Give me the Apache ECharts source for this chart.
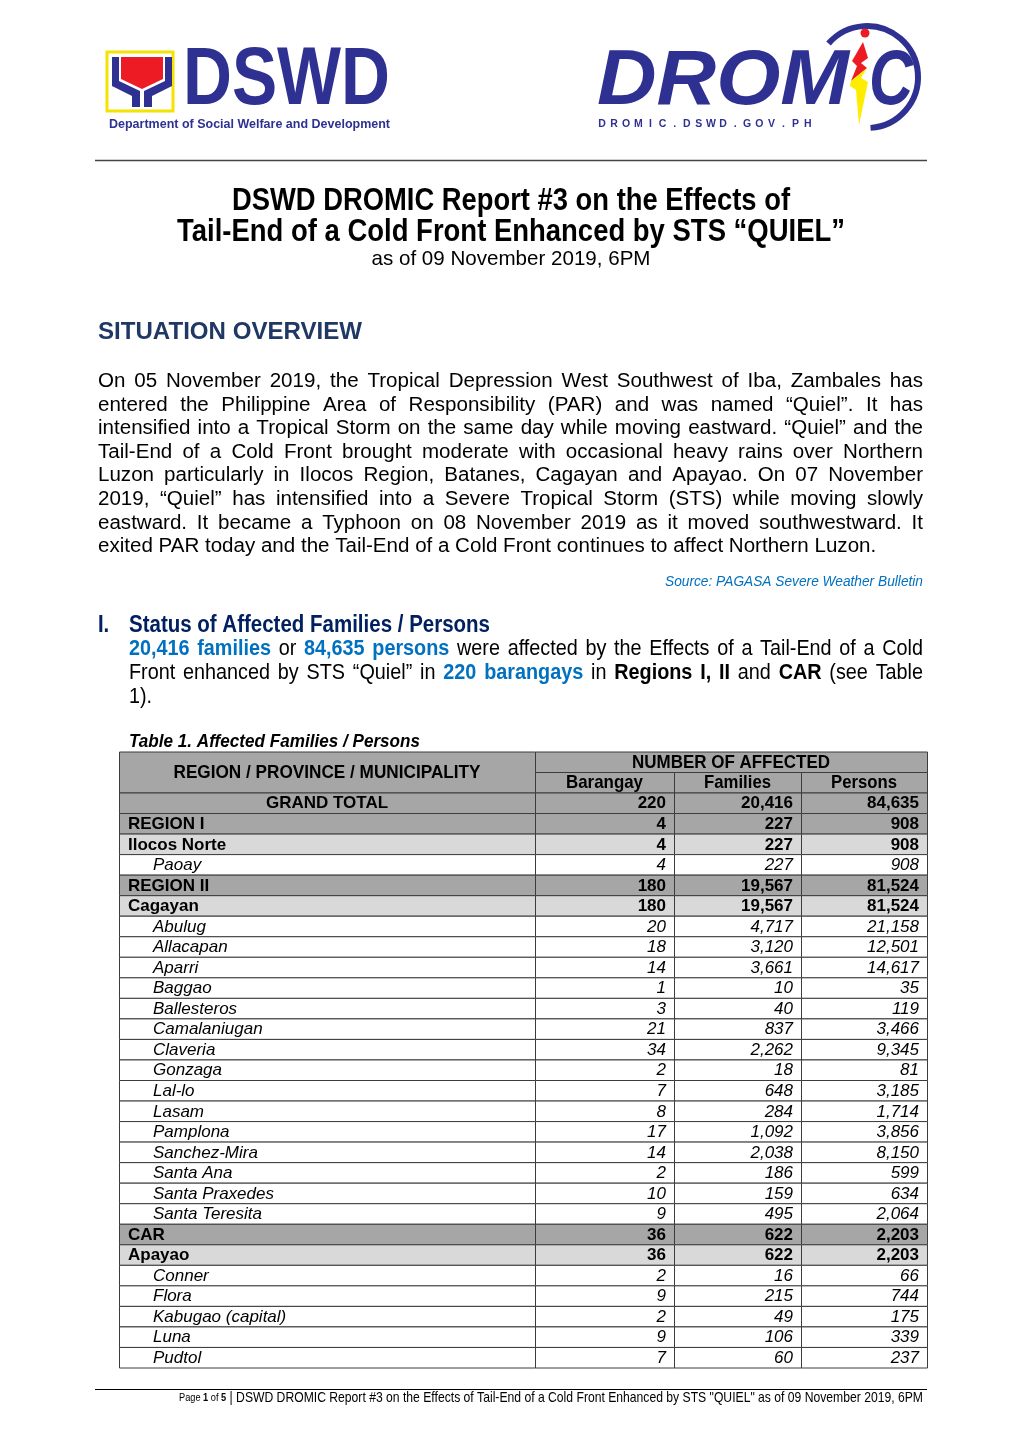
<!DOCTYPE html>
<html><head><meta charset="utf-8">
<script src="https://cdn.jsdelivr.net/npm/echarts@6/dist/echarts.min.js"></script>
<style>html,body{margin:0;padding:0;background:#fff}#c{width:1020px;height:1442px}</style>
</head><body><div id="c"></div>
<script>
// ---------------- DATA ----------------
const rowNames = ['GRAND TOTAL','REGION I','Ilocos Norte','Paoay','REGION II','Cagayan','Abulug','Allacapan','Aparri','Baggao','Ballesteros','Camalaniugan','Claveria','Gonzaga','Lal-lo','Lasam','Pamplona','Sanchez-Mira','Santa Ana','Santa Praxedes','Santa Teresita','CAR','Apayao','Conner','Flora','Kabugao (capital)','Luna','Pudtol'];
const rowLevels = [0,1,2,3,1,2,3,3,3,3,3,3,3,3,3,3,3,3,3,3,3,1,2,3,3,3,3,3];
const barangays = [220,4,4,4,180,180,20,18,14,1,3,21,34,2,7,8,17,14,2,10,9,36,36,2,9,2,9,7];
const families = [20416,227,227,227,19567,19567,4717,3120,3661,10,40,837,2262,18,648,284,1092,2038,186,159,495,622,622,16,215,49,106,60];
const persons = [84635,908,908,908,81524,81524,21158,12501,14617,35,119,3466,9345,81,3185,1714,3856,8150,599,634,2064,2203,2203,66,744,175,339,237];
const headerMain = 'REGION / PROVINCE / MUNICIPALITY';
const headerGroup = 'NUMBER OF AFFECTED';
const headerCols = ['Barangay','Families','Persons'];
const titleLines = ['DSWD DROMIC Report #3 on the Effects of','Tail-End of a Cold Front Enhanced by STS \u201cQUIEL\u201d'];
const subtitle = 'as of 09 November 2019, 6PM';
const overviewLines = [
 'On 05 November 2019, the Tropical Depression West Southwest of Iba, Zambales has',
 'entered the Philippine Area of Responsibility (PAR) and was named \u201cQuiel\u201d. It has',
 'intensified into a Tropical Storm on the same day while moving eastward. \u201cQuiel\u201d and the',
 'Tail-End of a Cold Front brought moderate with occasional heavy rains over Northern',
 'Luzon particularly in Ilocos Region, Batanes, Cagayan and Apayao. On 07 November',
 '2019, \u201cQuiel\u201d has intensified into a Severe Tropical Storm (STS) while moving slowly',
 'eastward. It became a Typhoon on 08 November 2019 as it moved southwestward. It',
 'exited PAR today and the Tail-End of a Cold Front continues to affect Northern Luzon.'
];

// ---------------- HELPERS ----------------
const FAM = '"Liberation Sans", Arial, sans-serif';
const NARROW = 0.82;
const BLUE = '#0070c0', NAVY = '#002060', LOGO = '#2e3192';
const cv = document.createElement('canvas').getContext('2d');
function fontStr(o){ return (o.s||'normal')+' '+(o.w||'normal')+' '+o.size+'px '+FAM; }
function mw(t, font){ cv.font = font; return cv.measureText(t).width; }
const G = [];
function txt(t, x, y, o){
  const font = fontStr(o);
  let sx = o.sx || 1;
  if (o.fitW) sx = o.fitW / mw(t, font);
  const al = o.align || 'left';
  G.push({type:'text', x:x, y:y, scaleX:sx, silent:true, z:10,
    style:{text:t, x:0, y:0, font:font, fill:o.c||'#000', align:al, verticalAlign:'middle', textAlign:al, textVerticalAlign:'middle'}});
}
function justify(segs, x0, x1, y, size, sx, just){
  const words = [];
  segs.forEach(sg => sg.t.split(' ').filter(Boolean).forEach(w => words.push({t:w, o:{size:size, w:sg.w, s:sg.s, c:sg.c}})));
  const widths = words.map(w => mw(w.t, fontStr(w.o))*sx);
  const total = widths.reduce((a,b)=>a+b,0);
  const space = mw(' ', fontStr({size:size}))*sx;
  const gap = just && words.length>1 ? (x1-x0-total)/(words.length-1) : space;
  let x = x0;
  words.forEach((w,i)=>{ txt(w.t, x, y, Object.assign({sx:sx}, w.o)); x += widths[i]+gap; });
}

// ---------------- LOGOS ----------------
G.push({type:'rect', shape:{x:107,y:52,width:66,height:59}, style:{fill:'#fff', stroke:'#f2e400', lineWidth:3}, silent:true});
G.push({type:'polygon', shape:{points:[[121,57],[163,57],[163,79],[142,89],[121,79]]}, style:{fill:'#ed1c24'}, silent:true});
G.push({type:'polygon', shape:{points:[[112,57],[119,57],[119,81],[140,91],[140,107],[132,107],[132,96],[112,86]]}, style:{fill:LOGO}, silent:true});
G.push({type:'polygon', shape:{points:[[172,57],[165,57],[165,81],[144,91],[144,107],[152,107],[152,96],[172,86]]}, style:{fill:LOGO}, silent:true});
txt('DSWD', 183, 82, {size:81, w:'bold', c:LOGO, fitW:207});
txt('Department of Social Welfare and Development', 109, 124, {size:13, w:'bold', c:LOGO, fitW:281});

txt('DROM', 597, 83, {size:77, w:'bold', s:'italic', c:LOGO, fitW:252});
txt('C', 869, 83, {size:77, w:'bold', s:'italic', c:LOGO, fitW:44});
G.push({type:'arc', shape:{cx:867,cy:77,r:51,startAngle:-139*Math.PI/180,endAngle:86*Math.PI/180,clockwise:true}, style:{stroke:LOGO, lineWidth:6, fill:null}, silent:true});
G.push({type:'circle', shape:{cx:865,cy:33,r:4.5}, style:{fill:'#ed1c24'}, silent:true});
G.push({type:'polygon', shape:{points:[[863,42],[868,58],[861,63],[867,68],[851,81],[857,66],[852,61]]}, style:{fill:'#ed1c24'}, silent:true});
G.push({type:'polygon', shape:{points:[[867,68],[861,78],[868,82],[859,125],[856,90],[850,86],[851,81]]}, style:{fill:'#ffed00'}, silent:true});
'DROMIC.DSWD.GOV.PH'.split('').forEach((ch,k)=>txt(ch, 602 + k*12.1, 124, {size:10.5, w:'bold', c:LOGO, align:'center'}));

G.push({type:'line', shape:{x1:95,y1:160.5,x2:927,y2:160.5}, style:{stroke:'#444', lineWidth:1.5}, silent:true});

// ---------------- TITLE ----------------
txt(titleLines[0], 511, 201, {size:32, w:'bold', align:'center', fitW:558});
txt(titleLines[1], 511, 232, {size:32, w:'bold', align:'center', fitW:668});
txt(subtitle, 511, 259, {size:21, align:'center', fitW:279});

txt('SITUATION OVERVIEW', 98, 332, {size:24, w:'bold', c:'#1f3864', fitW:264});

// overview paragraph (justified)
const ovY = [381,405,428,452,475,499,523,546];
const ovSize = 20 * 779 / mw(overviewLines[7], fontStr({size:20}));
overviewLines.forEach((l,i)=>justify([{t:l}], 98, 923, ovY[i], ovSize, 1, i<7));

txt('Source: PAGASA Severe Weather Bulletin', 923, 582, {size:15.5, s:'italic', c:BLUE, align:'right', fitW:258});

txt('I.', 98, 626, {size:23, w:'bold', c:NAVY, sx:0.88});
txt('Status of Affected Families / Persons', 129, 626, {size:23, w:'bold', c:NAVY, fitW:361});
const PS = 22, PX = 0.9;
justify([{t:'20,416 families', w:'bold', c:BLUE},{t:'or'},{t:'84,635 persons', w:'bold', c:BLUE},{t:'were affected by the Effects of a Tail-End of a Cold'}], 129, 923, 649, PS, PX, true);
justify([{t:'Front enhanced by STS \u201cQuiel\u201d in'},{t:'220 barangays', w:'bold', c:BLUE},{t:'in'},{t:'Regions I, II', w:'bold'},{t:'and'},{t:'CAR', w:'bold'},{t:'(see Table'}], 129, 923, 673, PS, PX, true);
justify([{t:'1).'}], 129, 923, 697, PS, PX, false);

txt('Table 1. Affected Families / Persons', 129, 742, {size:19, w:'bold', s:'italic', fitW:291});

// ---------------- TABLE HEADER ----------------
const TT = 752, HR = 20.5;
const colX = [119, 535, 674, 801, 927];
const HBG = '#a6a6a6', LINE = '#3c3c3c';
function cell(x, y, w, h, fill){ G.push({type:'rect', shape:{x:Math.round(x)+0.5, y:y, width:w, height:h}, style:{fill:fill, stroke:LINE, lineWidth:1}, silent:true}); }
cell(colX[0], TT, colX[1]-colX[0], 2*HR, HBG);
cell(colX[1], TT, colX[4]-colX[1], HR, HBG);
for (let k=0;k<3;k++) cell(colX[k+1], TT+HR, colX[k+2]-colX[k+1], HR, HBG);
txt(headerMain, (colX[0]+colX[1])/2, TT+HR, {size:19, w:'bold', align:'center', fitW:307});
txt(headerGroup, (colX[1]+colX[4])/2, TT+HR/2+0.5, {size:19, w:'bold', align:'center', fitW:198});
const hdrW = [77, 67, 66];
headerCols.forEach((h,k)=>txt(h, (colX[k+1]+colX[k+2])/2, TT+HR*1.5+0.5, {size:19, w:'bold', align:'center', fitW:hdrW[k]}));

// footer
G.push({type:'line', shape:{x1:95,y1:1389.5,x2:927,y2:1389.5}, style:{stroke:'#000', lineWidth:1}, silent:true});
(function(){
  const parts = [['Page ',11,'normal'],['1',11,'bold'],[' of ',11,'normal'],['5',11,'bold'],[' | DSWD DROMIC Report #3 on the Effects of Tail-End of a Cold Front Enhanced by STS "QUIEL" as of 09 November 2019, 6PM',14.5,'normal']];
  let w = 0; parts.forEach(p=>w += mw(p[0], fontStr({size:p[1], w:p[2]})));
  const sx = 744 / w;
  G.push({type:'text', x:923, y:1398, scaleX:sx, silent:true, z:10, style:{
    text: '{a|Page }{b|1}{a| of }{b|5}{m|' + parts[4][0] + '}',
    x:0, y:0, align:'right', verticalAlign:'middle', textAlign:'right', textVerticalAlign:'middle', fill:'#000',
    rich:{a:{font:fontStr({size:11}), fill:'#000'}, b:{font:fontStr({size:11,w:'bold'}), fill:'#000'}, m:{font:fontStr({size:14.5}), fill:'#000'}}
  }});
})();

// ---------------- TABLE BODY (custom series) ----------------
const colEdges = [0, 416, 555, 682, 808];
const levelFill = ['#a6a6a6','#a6a6a6','#d9d9d9','#ffffff'];
const fmt = v => v.toLocaleString('en-US');

const chart = echarts.init(document.getElementById('c'), null, {renderer:'canvas'});
chart.setOption({
  animation:false,
  backgroundColor:'#ffffff',
  grid:{left:119, top:793, width:808, height:575},
  xAxis:{type:'value', min:0, max:808, show:false},
  yAxis:{type:'category', data:rowNames, inverse:true, show:false},
  graphic:{elements:G},
  series:[{
    type:'custom',
    coordinateSystem:'cartesian2d',
    silent:true,
    encode:{x:0, y:1},
    data: rowNames.map((n,i)=>[0, i]),
    renderItem:function(params, api){
      const i = api.value(1);
      const c = api.coord([0, i]);
      const h = api.size([0, 1])[1];
      const top = c[1] - h/2;
      const xs = colEdges.map(e => api.coord([e, i])[0]);
      const lv = rowLevels[i];
      const fill = levelFill[lv];
      const bold = lv < 3;
      const vals = [barangays[i], families[i], persons[i]];
      const children = [];
      for (let k=0;k<4;k++){
        children.push({type:'rect', shape:{x:Math.round(xs[k])+0.5, y:top, width:xs[k+1]-xs[k], height:h},
          style:{fill:fill, stroke:LINE, lineWidth:1}});
      }
      const font = (bold?'normal':'italic')+' '+(bold?'bold':'normal')+' 17px '+FAM;
      let nx, na;
      if (lv===0){ nx=(xs[0]+xs[1])/2; na='center'; }
      else if (lv<3){ nx=xs[0]+9; na='left'; }
      else { nx=xs[0]+34; na='left'; }
      children.push({type:'text', style:{text:rowNames[i], x:nx, y:c[1]+0.5, font:font, fill:'#000', align:na, verticalAlign:'middle', textAlign:na, textVerticalAlign:'middle'}});
      for (let k=0;k<3;k++){
        children.push({type:'text', style:{text:fmt(vals[k]), x:xs[k+2]-8, y:c[1]+0.5, font:font, fill:'#000', align:'right', verticalAlign:'middle', textAlign:'right', textVerticalAlign:'middle'}});
      }
      return {type:'group', children:children};
    }
  }]
});
</script></body></html>
